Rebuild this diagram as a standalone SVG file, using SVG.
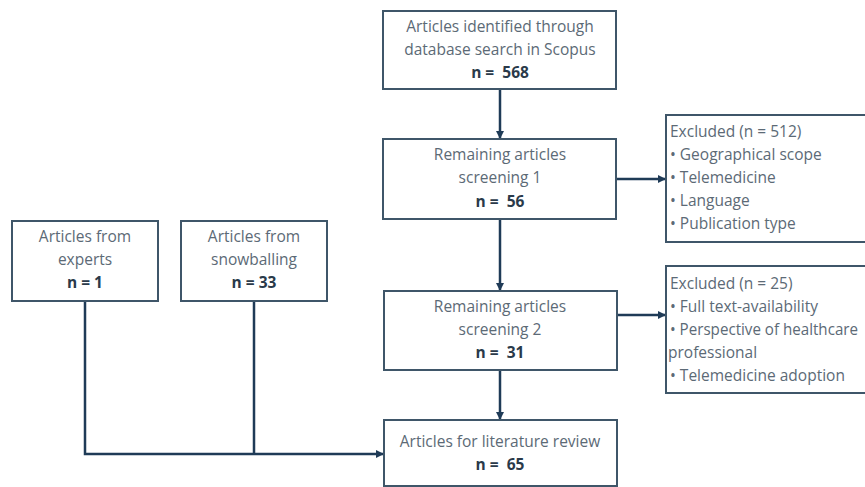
<svg xmlns="http://www.w3.org/2000/svg" width="865" height="487" viewBox="0 0 865 487">
<defs>
<style>
.box{fill:#ffffff;stroke:#3f5669;stroke-width:2}
.t{font-family:"Open Sans","Noto Sans",sans-serif;font-size:15.5px;fill:#5c6a76}
.c{text-anchor:middle}
.b{font-weight:700;fill:#2a3a4a}
.conn{fill:none;stroke:#1f3b57;stroke-width:2.5}
</style>
<marker id="ah" markerWidth="8" markerHeight="8" refX="7" refY="4" orient="auto" markerUnits="userSpaceOnUse">
<path d="M0,0 L8,4 L0,8 Z" fill="#1f3b57"/>
</marker>
</defs>
<rect width="865" height="487" fill="#ffffff"/>
<g id="connectors">
<line class="conn" x1="500" y1="89" x2="500" y2="138" marker-end="url(#ah)"/>
<line class="conn" x1="500" y1="219" x2="500" y2="290" marker-end="url(#ah)"/>
<line class="conn" x1="500" y1="370" x2="500" y2="419" marker-end="url(#ah)"/>
<line class="conn" x1="616" y1="179" x2="665" y2="179" marker-end="url(#ah)"/>
<line class="conn" x1="617" y1="315" x2="665" y2="315" marker-end="url(#ah)"/>
<polyline class="conn" points="85,301 85,454 383,454" marker-end="url(#ah)"/>
<line class="conn" x1="254" y1="301" x2="254" y2="454"/>
</g>
<g id="scopus">
<rect class="box" x="383" y="11" width="233" height="78"/>
<text class="t c" x="500" y="32">Articles identified through</text>
<text class="t c" x="500" y="55">database search in Scopus</text>
<text class="t c b" x="500" y="78" xml:space="preserve">n =  568</text>
</g>
<g id="screening1">
<rect class="box" x="383" y="139" width="233" height="80"/>
<text class="t c" x="500" y="160">Remaining articles</text>
<text class="t c" x="500" y="183">screening 1</text>
<text class="t c b" x="500" y="207" xml:space="preserve">n =  56</text>
</g>
<g id="screening2">
<rect class="box" x="384" y="291" width="233" height="79"/>
<text class="t c" x="500" y="312">Remaining articles</text>
<text class="t c" x="500" y="335">screening 2</text>
<text class="t c b" x="500" y="358" xml:space="preserve">n =  31</text>
</g>
<g id="review">
<rect class="box" x="384" y="420" width="233" height="66"/>
<text class="t c" x="500" y="447">Articles for literature review</text>
<text class="t c b" x="500" y="470" xml:space="preserve">n =  65</text>
</g>
<g id="experts">
<rect class="box" x="12" y="221" width="146" height="80"/>
<text class="t c" x="85" y="242">Articles from</text>
<text class="t c" x="85" y="265">experts</text>
<text class="t c b" x="85" y="288">n = 1</text>
</g>
<g id="snowballing">
<rect class="box" x="181" y="221" width="146" height="80"/>
<text class="t c" x="254" y="242">Articles from</text>
<text class="t c" x="254" y="265">snowballing</text>
<text class="t c b" x="254" y="288">n = 33</text>
</g>
<g id="excluded1">
<rect class="box" x="666" y="115" width="210" height="127"/>
<text class="t" x="670" y="137">Excluded (n = 512)</text>
<text class="t" x="670" y="160">• Geographical scope</text>
<text class="t" x="670" y="183">• Telemedicine</text>
<text class="t" x="670" y="206">• Language</text>
<text class="t" x="670" y="229">• Publication type</text>
</g>
<g id="excluded2">
<rect class="box" x="666" y="266" width="210" height="127"/>
<text class="t" x="670" y="289">Excluded (n = 25)</text>
<text class="t" x="670" y="312">• Full text-availability</text>
<text class="t" x="670" y="335" textLength="188" lengthAdjust="spacingAndGlyphs">• Perspective of healthcare</text>
<text class="t" x="668" y="358">professional</text>
<text class="t" x="670" y="381">• Telemedicine adoption</text>
</g>
</svg>
